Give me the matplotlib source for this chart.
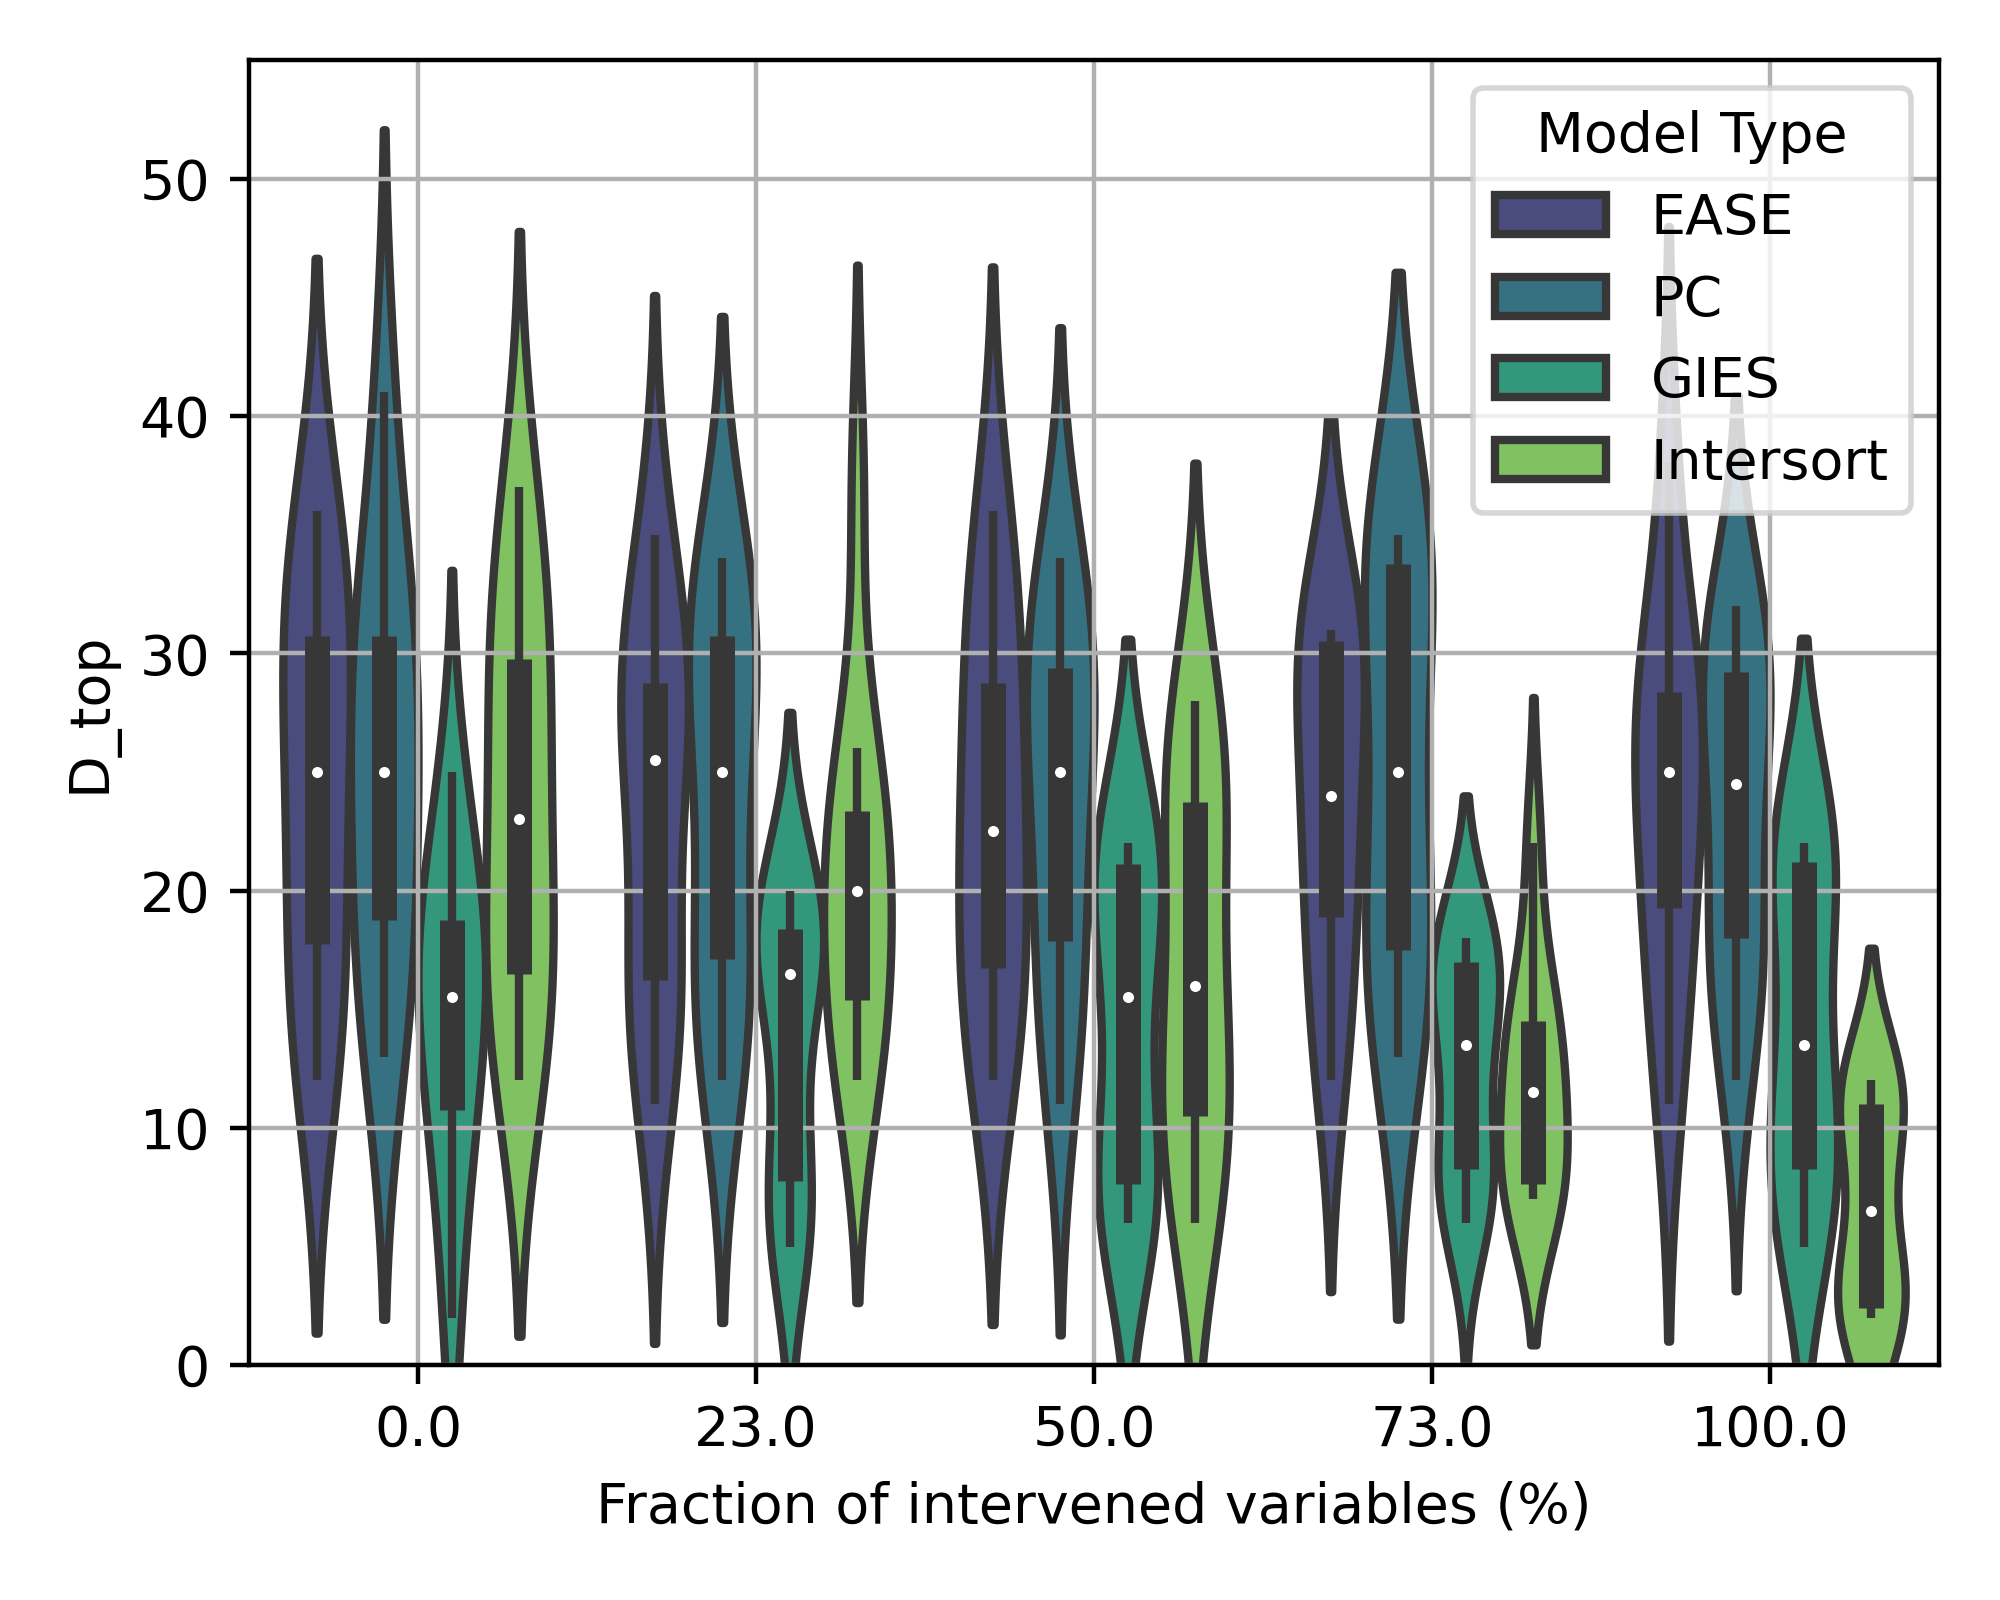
import numpy as np
import pandas as pd
import matplotlib
matplotlib.use('Agg')
import matplotlib.pyplot as plt
import matplotlib.cbook as cbook
import seaborn as sns

## Data ##
fractions = ['0.0', '23.0', '50.0', '73.0', '100.0']
models = ['EASE', 'PC', 'GIES', 'Intersort']

# D_top of the 10 runs, one list per fraction of intervened variables
ease = [
    [12, 14, 17, 20, 24, 26, 30, 31, 34, 36],
    [11, 15, 16, 17, 25, 26, 28, 29, 31, 35],
    [12, 14, 16, 19, 22, 23, 28, 29, 33, 36],
    [12, 15, 18, 21.5, 23, 25, 30, 30.7, 31, 31],
    [11, 15, 19, 20, 24, 26, 28, 28.5, 30, 38],
]
pc = [
    [13, 15, 18, 21, 24, 26, 30, 31, 33, 41],
    [12, 14, 17, 17.5, 24, 26, 30, 31, 32, 34],
    [11, 15, 17, 20.5, 24, 26, 29, 29.5, 32, 34],
    [13, 15, 17, 19, 24, 26, 33, 34, 35, 35],
    [12, 16, 18, 18, 24, 25, 29, 29.3, 31, 32],
]
gies = [
    [2, 8, 10, 13, 15, 16, 18, 19, 21, 25],
    [5, 6, 7, 10, 16, 17, 18, 18.5, 19, 20],
    [6, 7, 7.5, 8, 14, 17, 20, 21.5, 22, 22],
    [6, 7, 8, 9, 13, 14, 16, 17.3, 18, 18],
    [5, 7, 8, 9, 13, 14, 21, 21.3, 22, 22],
]
intersort = [
    [12, 14, 16, 18, 22, 24, 29, 30, 33, 37],
    [12, 13, 15, 16.5, 19, 21, 23, 23.5, 26, 37],
    [6, 8, 10, 12, 15, 17, 23, 24, 26, 28],
    [7, 7, 7.5, 8, 11, 12, 13, 15, 16, 22],
    [2, 2, 2.2, 3, 5, 8, 11, 11, 12, 12],
]

series = {'EASE': ease, 'PC': pc, 'GIES': gies, 'Intersort': intersort}

rows = []
for m in models:
    for f, vals in zip(fractions, series[m]):
        for v in vals:
            rows.append({'frac': f, 'D_top': v, 'Model Type': m})
df = pd.DataFrame(rows)

gray = '#373737'

#### Plot ####
fig, ax = plt.subplots(figsize=(5, 4), dpi=400)
fig.subplots_adjust(left=0.1245, right=0.9695, top=0.9625, bottom=0.1467)

sns.violinplot(data=df, x='frac', y='D_top', hue='Model Type',
               order=fractions, hue_order=models, palette='viridis',
               inner=None, density_norm='width', linewidth=1.5,
               linecolor=gray, saturation=0.75, cut=2, ax=ax)

# inner box (seaborn 0.12 style): whisker, thick box, white median dot
offsets = np.linspace(-0.3, 0.3, len(models))
for i, f in enumerate(fractions):
    for j, m in enumerate(models):
        st = cbook.boxplot_stats(np.array(series[m][i]))[0]
        xp = i + offsets[j]
        ax.plot([xp, xp], [st['whislo'], st['whishi']], color=gray,
                lw=1.5, solid_capstyle='butt')
        ax.plot([xp, xp], [st['q1'], st['q3']], color=gray,
                lw=4.5, solid_capstyle='butt')
        ax.scatter(xp, st['med'], s=9, color='white', edgecolor=gray,
                   linewidths=1.0, zorder=3)

ax.grid(True)
ax.set_ylim(0, 55)
ax.set_xlim(-0.5, 4.5)
ax.set_xlabel('Fraction of intervened variables (%)')
ax.set_ylabel('D_top')
sns.move_legend(ax, 'upper right', title='Model Type')

fig.savefig('out.png', dpi=400)
